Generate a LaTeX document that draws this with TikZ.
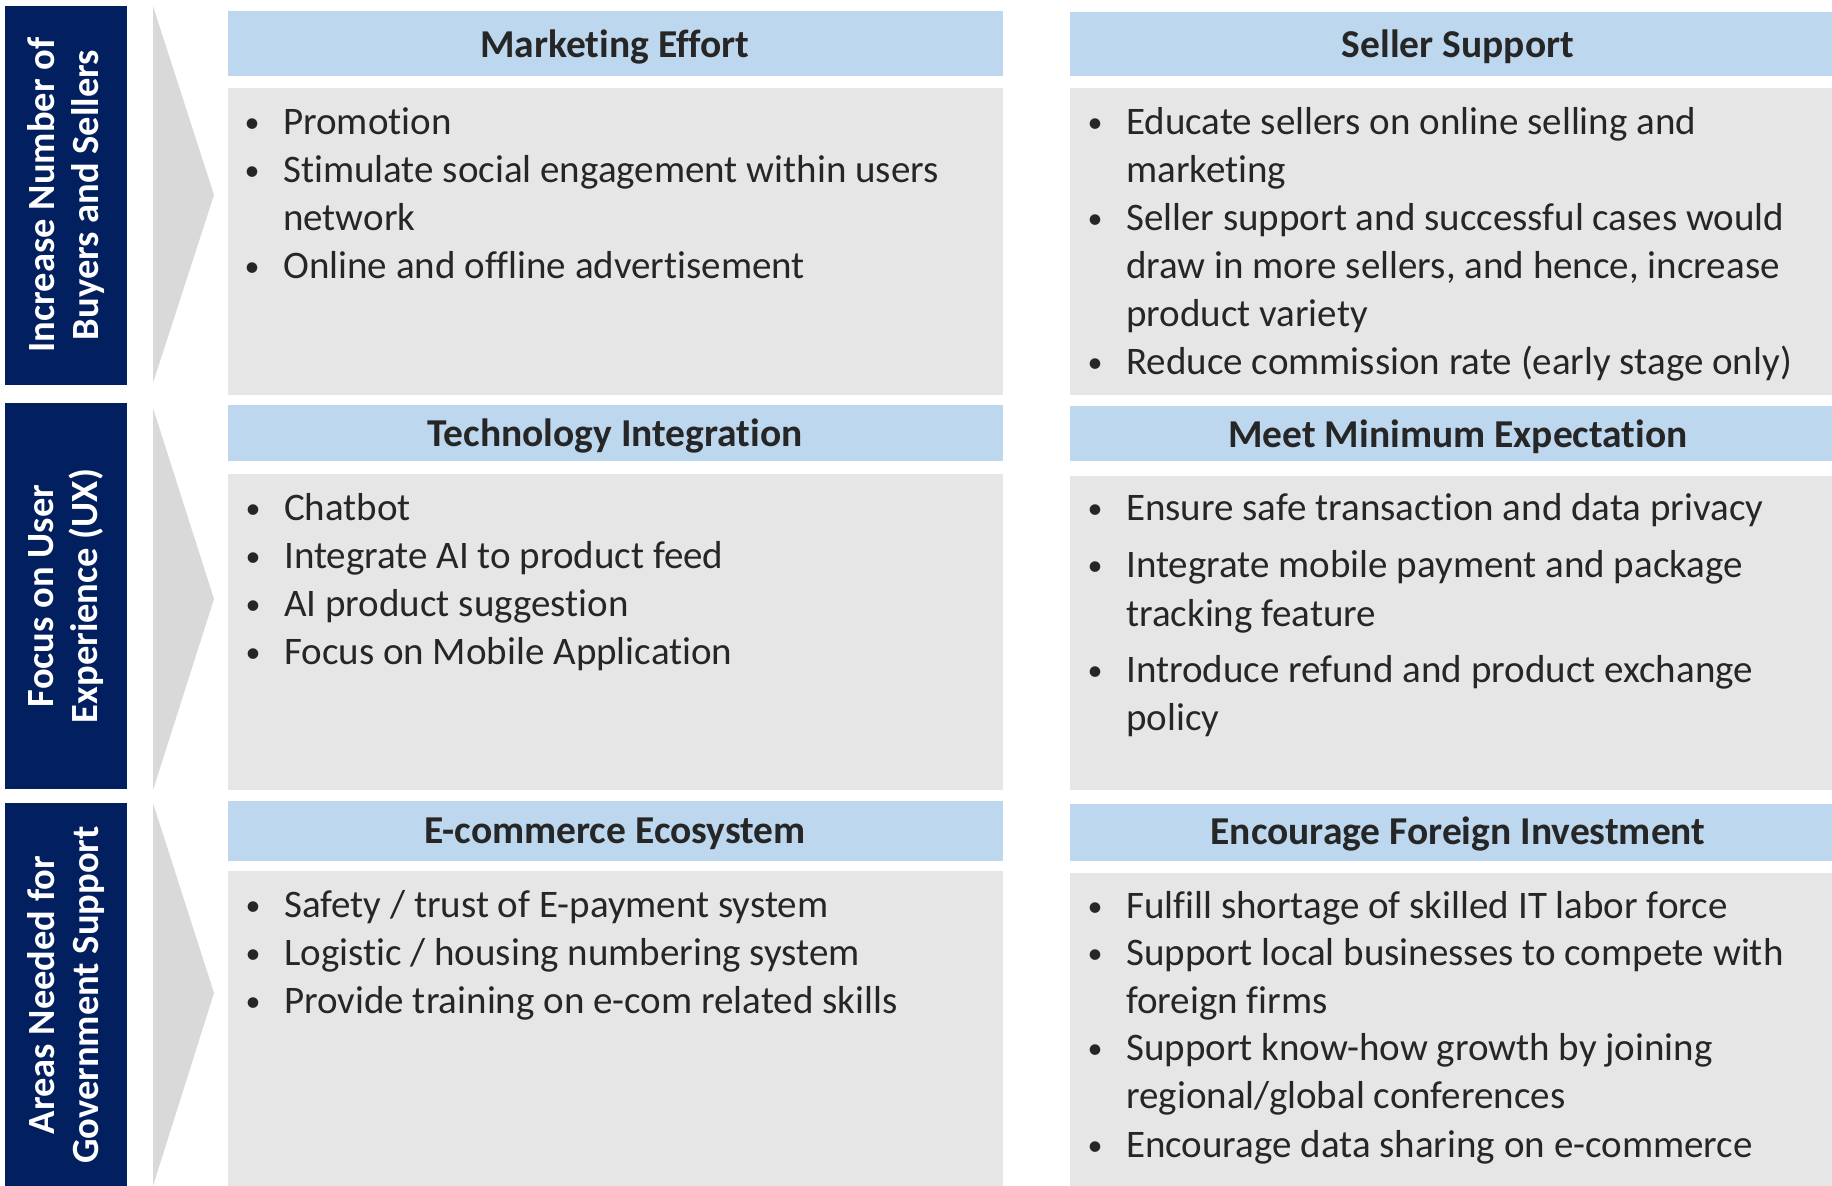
\documentclass[tikz,border=0pt]{standalone}
\usepackage{fontspec}
\setmainfont{Carlito}[Ligatures=NoCommon]
\definecolor{navy}{HTML}{021F5F}
\definecolor{hdrblue}{HTML}{BDD7EE}
\definecolor{bodygrey}{HTML}{E6E6E6}
\definecolor{chevgrey}{HTML}{D9D9D9}
\definecolor{txt}{HTML}{262626}
\tikzset{
  navybox/.style={fill=navy, draw=none},
  chevron/.style={fill=chevgrey, draw=none},
  hdrbox/.style={fill=hdrblue, draw=none},
  bodybox/.style={fill=bodygrey, draw=none},
  sidetxt/.style={rotate=90, text=white, align=center, inner sep=0pt,
    font=\bfseries\fontsize{38.5}{44}\selectfont},
  hdrtxt/.style={anchor=base, text=txt, inner sep=0pt,
    font=\bfseries\fontsize{39.5}{44}\selectfont},
  line/.style={anchor=base west, text=txt, inner sep=0pt,
    font=\fontsize{39}{48}\selectfont},
  bul/.style={anchor=base, text=txt, inner sep=0pt, yshift=2pt,
    font=\fontsize{30}{30}\selectfont}
}
\begin{document}
\begin{tikzpicture}[x=1pt,y=-1pt]
\useasboundingbox (0,0) rectangle (1832,1186);
\clip (0,0) rectangle (1832,1186);
\fill[white] (0,0) rectangle (1832,1186);

% ---- left labels ----
\fill[navybox] (5,6) rectangle (127,385);
\fill[navybox] (5,403) rectangle (127,789);
\fill[navybox] (5,803) rectangle (127,1190);
\node[sidetxt] (lab1) at (66,195) {Increase Number of\\Buyers and Sellers};
\node[sidetxt] (lab2) at (66,596) {Focus on User\\Experience (UX)};
\node[sidetxt] (lab3) at (66,995) {Areas Needed for\\Government Support};

% ---- chevrons ----
\fill[chevron] (153,6) -- (214,195) -- (153,383) -- cycle;
\fill[chevron] (153,408) -- (214,599) -- (153,790) -- cycle;
\fill[chevron] (153,803) -- (214,993) -- (153,1186) -- cycle;

% ---- header bars ----
\fill[hdrbox] (228,11) rectangle (1003,76);
\fill[hdrbox] (1070,12) rectangle (1846,76);
\fill[hdrbox] (228,405) rectangle (1003,461);
\fill[hdrbox] (1070,406) rectangle (1846,461);
\fill[hdrbox] (228,801) rectangle (1003,861);
\fill[hdrbox] (1070,804) rectangle (1846,861);

% ---- body panels ----
\fill[bodybox] (228,88) rectangle (1003,395);
\fill[bodybox] (1070,88) rectangle (1846,395);
\fill[bodybox] (228,474) rectangle (1003,790);
\fill[bodybox] (1070,476) rectangle (1846,790);
\fill[bodybox] (228,871) rectangle (1003,1190);
\fill[bodybox] (1070,873) rectangle (1846,1190);

% ---- headings ----
\node[hdrtxt] (h11) at (615,57) {Marketing Effort};
\node[hdrtxt] (h12) at (1458,57) {Seller Support};
\node[hdrtxt] (h21) at (615,446) {Technology Integration};
\node[hdrtxt] (h22) at (1458,447) {Meet Minimum Expectation};
\node[hdrtxt] (h31) at (615,843) {E-commerce Ecosystem};
\node[hdrtxt] (h32) at (1458,844) {Encourage Foreign Investment};

% ---- Marketing Effort ----
\node[bul] (b111) at (252,134) {•};
\node[line] (t111) at (283,134) {Promotion};
\node[bul] (b112) at (252,182) {•};
\node[line] (t112) at (283,182) {Stimulate social engagement within users};
\node[line] (t113) at (283,230) {network};
\node[bul] (b114) at (252,278) {•};
\node[line] (t114) at (283,278) {Online and offline advertisement};

% ---- Seller Support ----
\node[bul] (b121) at (1095,134) {•};
\node[line] (t121) at (1126,134) {Educate sellers on online selling and};
\node[line] (t122) at (1126,182) {marketing};
\node[bul] (b123) at (1095,230) {•};
\node[line] (t123) at (1126,230) {Seller support and successful cases would};
\node[line] (t124) at (1126,278) {draw in more sellers, and hence, increase};
\node[line] (t125) at (1126,326) {product variety};
\node[bul] (b126) at (1095,374) {•};
\node[line] (t126) at (1126,374) {Reduce commission rate (early stage only)};

% ---- Technology Integration ----
\node[bul] (b211) at (253,520) {•};
\node[line] (t211) at (284,520) {Chatbot};
\node[bul] (b212) at (253,568) {•};
\node[line] (t212) at (284,568) {Integrate AI to product feed};
\node[bul] (b213) at (253,616) {•};
\node[line] (t213) at (284,616) {AI product suggestion};
\node[bul] (b214) at (253,664) {•};
\node[line] (t214) at (284,664) {Focus on Mobile Application};

% ---- Meet Minimum Expectation ----
\node[bul] (b221) at (1095,520) {•};
\node[line] (t221) at (1126,520) {Ensure safe transaction and data privacy};
\node[bul] (b222) at (1095,577) {•};
\node[line] (t222) at (1126,577) {Integrate mobile payment and package};
\node[line] (t223) at (1126,626) {tracking feature};
\node[bul] (b224) at (1095,682) {•};
\node[line] (t224) at (1126,682) {Introduce refund and product exchange};
\node[line] (t225) at (1126,730) {policy};

% ---- E-commerce Ecosystem ----
\node[bul] (b311) at (253,917) {•};
\node[line] (t311) at (284,917) {Safety / trust of E-payment system};
\node[bul] (b312) at (253,965) {•};
\node[line] (t312) at (284,965) {Logistic / housing numbering system};
\node[bul] (b313) at (253,1013) {•};
\node[line] (t313) at (284,1013) {Provide training on e-com related skills};

% ---- Encourage Foreign Investment ----
\node[bul] (b321) at (1095,918) {•};
\node[line] (t321) at (1126,918) {Fulfill shortage of skilled IT labor force};
\node[bul] (b322) at (1095,965) {•};
\node[line] (t322) at (1126,965) {Support local businesses to compete with};
\node[line] (t323) at (1126,1013) {foreign firms};
\node[bul] (b324) at (1095,1060) {•};
\node[line] (t324) at (1126,1060) {Support know-how growth by joining};
\node[line] (t325) at (1126,1108) {regional/global conferences};
\node[bul] (b326) at (1095,1157) {•};
\node[line] (t326) at (1126,1157) {Encourage data sharing on e-commerce};
\end{tikzpicture}
\end{document}
